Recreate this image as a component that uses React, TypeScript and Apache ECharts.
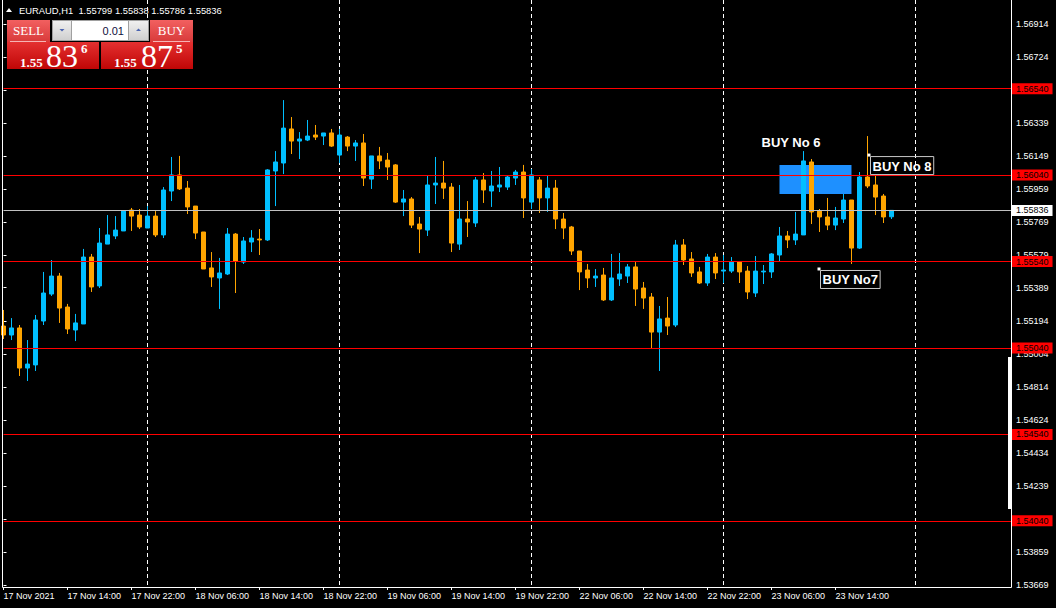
import React, { useEffect, useRef } from 'react';
import * as echarts from 'echarts';

const SYMBOL = 'EURAUD,H1';
const X_LABELS = ['17 Nov 2021', '17 Nov 14:00', '17 Nov 22:00', '18 Nov 06:00', '18 Nov 14:00', '18 Nov 22:00', '19 Nov 06:00', '19 Nov 14:00', '19 Nov 22:00', '22 Nov 06:00', '22 Nov 14:00', '22 Nov 22:00', '23 Nov 06:00', '23 Nov 14:00'];
// price scale ticks; the two marked hidden ones sit under the red level labels in the reference
const Y_TICKS = ['1.53669', '1.53859', '1.54049', '1.54239', '1.54434', '1.54624', '1.54814', '1.55004', '1.55194', '1.55389', '1.55579', '1.55769', '1.55959', '1.56149', '1.56339', '1.56529', '1.56724', '1.56914'];
const Y_TICKS_HIDDEN = ['1.54049', '1.56529'];

const OPEN = [1.55167, 1.55115, 1.55156, 1.54924, 1.54942, 1.55196, 1.55352, 1.55456, 1.55277, 1.55144, 1.55179, 1.55566, 1.55399, 1.55641, 1.55688, 1.55717, 1.55838, 1.55809, 1.55734, 1.55803, 1.55694, 1.55948, 1.56041, 1.55965, 1.55861, 1.55711, 1.55503, 1.55445, 1.55468, 1.55699, 1.55537, 1.55653, 1.55670, 1.55665, 1.56064, 1.56110, 1.56307, 1.56237, 1.56243, 1.56272, 1.56266, 1.56284, 1.56156, 1.56260, 1.56208, 1.56226, 1.56017, 1.56151, 1.56127, 1.56099, 1.55884, 1.55902, 1.55757, 1.55722, 1.55983, 1.55994, 1.55971, 1.55641, 1.55786, 1.55763, 1.56012, 1.55948, 1.55971, 1.55971, 1.56023, 1.56058, 1.55884, 1.56012, 1.55908, 1.55965, 1.55786, 1.55740, 1.55601, 1.55491, 1.55445, 1.55462, 1.55318, 1.55439, 1.55456, 1.55509, 1.55387, 1.55335, 1.55132, 1.55213, 1.55173, 1.55636, 1.55555, 1.55480, 1.55416, 1.55566, 1.55485, 1.55485, 1.55537, 1.55485, 1.55358, 1.55480, 1.55480, 1.55578, 1.55688, 1.55665, 1.55694, 1.56116, 1.55832, 1.55798, 1.55751, 1.55786, 1.55896, 1.55618, 1.56029, 1.55983, 1.55919, 1.55799];
const CLOSE = [1.55115, 1.55156, 1.54924, 1.54947, 1.55202, 1.55358, 1.55456, 1.55271, 1.55150, 1.55185, 1.55566, 1.55393, 1.55647, 1.55694, 1.55722, 1.55832, 1.55803, 1.55740, 1.55803, 1.55694, 1.55954, 1.56041, 1.55960, 1.55856, 1.55705, 1.55497, 1.55451, 1.55474, 1.55699, 1.55543, 1.55659, 1.55676, 1.55665, 1.56070, 1.56116, 1.56312, 1.56237, 1.56249, 1.56266, 1.56260, 1.56284, 1.56208, 1.56272, 1.56208, 1.56226, 1.56023, 1.56151, 1.56122, 1.56087, 1.55884, 1.55902, 1.55751, 1.55728, 1.55983, 1.55994, 1.55965, 1.55647, 1.55786, 1.55769, 1.56012, 1.55954, 1.55977, 1.55983, 1.56029, 1.56058, 1.55908, 1.56041, 1.55908, 1.55965, 1.55786, 1.55734, 1.55601, 1.55480, 1.55445, 1.55456, 1.55318, 1.55445, 1.55468, 1.55509, 1.55381, 1.55329, 1.55132, 1.55208, 1.55167, 1.55636, 1.55549, 1.55474, 1.55416, 1.55566, 1.55474, 1.55491, 1.55537, 1.55480, 1.55364, 1.55485, 1.55485, 1.55584, 1.55688, 1.55665, 1.55699, 1.56122, 1.55827, 1.55798, 1.55751, 1.55792, 1.55896, 1.55618, 1.56029, 1.55977, 1.55913, 1.55798, 1.55836];
const HIGH = [1.55260, 1.55213, 1.55173, 1.55086, 1.55231, 1.55480, 1.55549, 1.55474, 1.55295, 1.55237, 1.55613, 1.55584, 1.55734, 1.55809, 1.55803, 1.55838, 1.55850, 1.55844, 1.55861, 1.55832, 1.55971, 1.56145, 1.56151, 1.56006, 1.55861, 1.55711, 1.55595, 1.55561, 1.55734, 1.55705, 1.55682, 1.55722, 1.55728, 1.56075, 1.56179, 1.56474, 1.56376, 1.56289, 1.56359, 1.56330, 1.56284, 1.56307, 1.56307, 1.56266, 1.56243, 1.56278, 1.56151, 1.56203, 1.56168, 1.56104, 1.55954, 1.55913, 1.55798, 1.56035, 1.56145, 1.56122, 1.55994, 1.55983, 1.55890, 1.56029, 1.56052, 1.56064, 1.56087, 1.56035, 1.56070, 1.56099, 1.56075, 1.56029, 1.56035, 1.56012, 1.55821, 1.55746, 1.55601, 1.55526, 1.55497, 1.55503, 1.55584, 1.55589, 1.55526, 1.55537, 1.55422, 1.55358, 1.55283, 1.55335, 1.55665, 1.55670, 1.55595, 1.55509, 1.55584, 1.55589, 1.55578, 1.55566, 1.55543, 1.55514, 1.55572, 1.55520, 1.55589, 1.55740, 1.55717, 1.55827, 1.56179, 1.56133, 1.55844, 1.55908, 1.55856, 1.55931, 1.55896, 1.56058, 1.56266, 1.56041, 1.55931, 1.55838];
const LOW = [1.55092, 1.55086, 1.54878, 1.54849, 1.54907, 1.55173, 1.55341, 1.55185, 1.55121, 1.55080, 1.55179, 1.55364, 1.55387, 1.55641, 1.55670, 1.55717, 1.55717, 1.55728, 1.55734, 1.55682, 1.55676, 1.55890, 1.55954, 1.55815, 1.55670, 1.55497, 1.55393, 1.55266, 1.55462, 1.55358, 1.55526, 1.55595, 1.55578, 1.55659, 1.55861, 1.56046, 1.56162, 1.56133, 1.56237, 1.56243, 1.56214, 1.56203, 1.56110, 1.56179, 1.56122, 1.55977, 1.55960, 1.56075, 1.56012, 1.55879, 1.55803, 1.55734, 1.55589, 1.55688, 1.55873, 1.55902, 1.55595, 1.55607, 1.55682, 1.55740, 1.55879, 1.55856, 1.55942, 1.55954, 1.55983, 1.55792, 1.55844, 1.55821, 1.55827, 1.55728, 1.55670, 1.55578, 1.55375, 1.55387, 1.55393, 1.55312, 1.55312, 1.55399, 1.55416, 1.55283, 1.55266, 1.55034, 1.54907, 1.55115, 1.55161, 1.55520, 1.55451, 1.55410, 1.55399, 1.55439, 1.55416, 1.55474, 1.55416, 1.55323, 1.55335, 1.55410, 1.55445, 1.55543, 1.55618, 1.55636, 1.55694, 1.55757, 1.55711, 1.55722, 1.55722, 1.55763, 1.55526, 1.55613, 1.55965, 1.55809, 1.55763, 1.55786];

const RED_LEVELS = [1.5654, 1.5604, 1.5554, 1.5504, 1.5454, 1.5404];
const BID = 1.55836;
const ASK = 1.55875;
const LOT = '0.01';
const DAY_SEPARATORS = [18, 42, 66, 90, 114];
const ZONE_BARS = [97, 106];
const ZONE_PRICES = [1.56099, 1.55931];
const NOTE_TEXT = ['BUY No 6', 'BUY No 8', 'BUY No7'];
const NOTE_BAR = [94.69, 108.19, 101.94];
const NOTE_PRICE = [1.56229, 1.56156, 1.55497];
const NOTE_BOXED = [false, true, true];

const Y_MIN = 1.53669;
const Y_MAX = 1.57053;
const X_MAX = 125.94;

const SANS = '"Liberation Sans", Arial, sans-serif';
const SERIF = '"Liberation Serif", "Times New Roman", serif';

function grad(c1: string, c2: string) {
  return new echarts.graphic.LinearGradient(0, 0, 0, 1, [
    { offset: 0, color: c1 },
    { offset: 1, color: c2 },
  ]);
}

function txt(text: string, x: number, y: number, font: string, fill: string, align = 'left') {
  return {
    type: 'text',
    z: 110,
    silent: true,
    style: { text, x, y, font, fill, align, textAlign: align, verticalAlign: 'middle', textVerticalAlign: 'middle' },
  };
}

function priceParts(p: number) {
  const s = p.toFixed(5);
  return [s.slice(0, 4), s.slice(4, 6), s.slice(6)];
}

export default function App() {
  const ref = useRef<HTMLDivElement>(null);

  useEffect(() => {
    if (!ref.current) return;
    const chart = echarts.init(ref.current, undefined, { renderer: 'svg' });
    const n = OPEN.length - 1;
    const candles = OPEN.map((o, i) => [i, o, CLOSE[i], LOW[i], HIGH[i]]);
    const title = `${SYMBOL}  ${OPEN[n].toFixed(5)} ${HIGH[n].toFixed(5)} ${LOW[n].toFixed(5)} ${CLOSE[n].toFixed(5)}`;
    const bidP = priceParts(BID);
    const askP = priceParts(ASK);

    const levelLabel = (bg: string) => ({
      show: true,
      position: 'end',
      distance: 1,
      backgroundColor: bg,
      color: '#000',
      fontSize: 9,
      fontFamily: SANS,
      lineHeight: 10,
      padding: [1, 4, 0, 4],
    });

    const option: any = {
      animation: false,
      backgroundColor: '#000',
      grid: { left: 3.5, right: 45, top: 0, bottom: 23, containLabel: false, outerBoundsMode: 'none' },
      xAxis: {
        type: 'value',
        min: 0,
        max: X_MAX,
        offset: 2,
        axisLine: { show: false },
        splitLine: { show: false },
        axisTick: {
          show: true,
          length: 3,
          customValues: X_LABELS.map((_, k) => k * 8),
          lineStyle: { color: '#fff', width: 1 },
        },
        axisLabel: {
          show: true,
          customValues: X_LABELS.map((_, k) => k * 8),
          formatter: (v: number) => X_LABELS[Math.round(v / 8)] ?? '',
          color: '#fff',
          fontSize: 9,
          fontFamily: SANS,
          align: 'left',
          margin: 4,
        },
      },
      yAxis: {
        type: 'value',
        position: 'right',
        min: Y_MIN,
        max: Y_MAX,
        scale: true,
        axisLine: { show: false },
        splitLine: { show: false },
        axisTick: {
          show: true,
          length: 3,
          customValues: Y_TICKS.map(Number),
          lineStyle: { color: '#fff', width: 1 },
        },
        axisLabel: {
          show: true,
          customValues: Y_TICKS.filter((t) => !Y_TICKS_HIDDEN.includes(t)).map(Number),
          formatter: (v: number) => v.toFixed(5),
          color: '#fff',
          fontSize: 9,
          fontFamily: SANS,
          margin: 5,
        },
      },
      series: [
        {
          type: 'scatter',
          z: 1,
          silent: true,
          symbolSize: 0,
          data: [[0, 1.55]],
          markArea: {
            silent: true,
            z: 1,
            itemStyle: { color: '#1e90ff', opacity: 1 },
            data: [[{ coord: [ZONE_BARS[0], ZONE_PRICES[0]] }, { coord: [ZONE_BARS[1], ZONE_PRICES[1]] }]],
          },
          markLine: {
            silent: true,
            z: 1,
            precision: 5,
            symbol: ['none', 'none'],
            label: { show: false },
            lineStyle: { color: '#ffffff', width: 1, type: [4, 3] },
            data: DAY_SEPARATORS.map((b) => ({ xAxis: b })),
          },
        },
        {
          type: 'candlestick',
          z: 3,
          silent: true,
          barWidth: 4,
          clip: true,
          itemStyle: {
            color: '#00bfff',
            color0: '#ffa500',
            borderColor: '#00bfff',
            borderColor0: '#ffa500',
            borderWidth: 1,
          },
          data: candles,
          markLine: {
            silent: true,
            z: 5,
            precision: 5,
            symbol: ['none', 'none'],
            data: [
              ...RED_LEVELS.map((v) => ({
                yAxis: v,
                lineStyle: { color: '#ff0000', width: 1, type: 'solid' },
                label: { ...levelLabel('#ff0000'), formatter: v.toFixed(5) },
              })),
              {
                yAxis: BID,
                lineStyle: { color: '#c0c0c0', width: 1, type: 'solid' },
                label: { ...levelLabel('#ffffff'), formatter: BID.toFixed(5) },
              },
            ],
          },
          markPoint: {
            silent: true,
            z: 6,
            data: NOTE_TEXT.map((t, i) =>
              NOTE_BOXED[i]
                ? {
                    coord: [NOTE_BAR[i], NOTE_PRICE[i]],
                    symbol: 'rect',
                    symbolSize: 3,
                    itemStyle: { color: '#ffffff' },
                    label: {
                      show: true,
                      formatter: t,
                      position: [3, 3],
                      align: 'left',
                      verticalAlign: 'top',
                      color: '#ffffff',
                      fontSize: 13,
                      fontWeight: 'bold',
                      fontFamily: SANS,
                      lineHeight: 13,
                      borderColor: '#c8c8c8',
                      borderWidth: 1,
                      padding: [3, 2, 2, 2],
                    },
                  }
                : {
                    coord: [NOTE_BAR[i], NOTE_PRICE[i]],
                    symbol: 'rect',
                    symbolSize: 1,
                    itemStyle: { color: 'rgba(0,0,0,0)' },
                    label: {
                      show: true,
                      formatter: t,
                      position: 'right',
                      distance: 0,
                      color: '#ffffff',
                      fontSize: 13,
                      fontWeight: 'bold',
                      fontFamily: SANS,
                    },
                  }
            ),
          },
        },
      ],
      graphic: [
        {
          type: 'polyline',
          z: 100,
          silent: true,
          shape: { points: [[2.5, 0], [2.5, 587.5], [1011.5, 587.5], [1011.5, 0]] },
          style: { stroke: '#ffffff', lineWidth: 1, fill: 'none' },
        },
        { type: 'rect', z: 100, silent: true, shape: { x: 1008, y: 357, width: 3, height: 152 }, style: { fill: '#ffffff' } },
        // title
        { type: 'polygon', z: 110, silent: true, shape: { points: [[6, 12], [9, 8], [12, 12]] }, style: { fill: '#ffffff' } },
        txt(title, 19, 10.5, `9.4px ${SANS}`, '#ffffff'),
        // SELL button
        { type: 'rect', z: 105, silent: true, shape: { x: 7, y: 20, width: 43, height: 22 }, style: { fill: grad('#f26060', '#d83a3a') } },
        { type: 'line', z: 106, silent: true, shape: { x1: 10, y1: 41.5, x2: 46, y2: 41.5 }, style: { stroke: '#f6b4b4', lineWidth: 1 } },
        txt('SELL', 28.5, 30.5, `13px ${SERIF}`, '#ffffff', 'center'),
        // lot box
        { type: 'rect', z: 105, silent: true, shape: { x: 52, y: 20, width: 97, height: 21 }, style: { fill: '#a0a0a0' } },
        { type: 'rect', z: 106, silent: true, shape: { x: 53, y: 21, width: 18, height: 19 }, style: { fill: grad('#f0f0f0', '#cfcfcf') } },
        { type: 'polygon', z: 107, silent: true, shape: { points: [[59.5, 29], [64.5, 29], [62, 31.5]] }, style: { fill: '#4a64b0' } },
        { type: 'rect', z: 106, silent: true, shape: { x: 72, y: 21, width: 56, height: 19 }, style: { fill: '#ffffff' } },
        txt(LOT, 124, 30.5, `11px ${SANS}`, '#101040', 'right'),
        { type: 'rect', z: 106, silent: true, shape: { x: 129, y: 21, width: 19, height: 19 }, style: { fill: grad('#f0f0f0', '#cfcfcf') } },
        { type: 'polygon', z: 107, silent: true, shape: { points: [[136, 31], [141, 31], [138.5, 28.5]] }, style: { fill: '#4a64b0' } },
        // BUY button
        { type: 'rect', z: 105, silent: true, shape: { x: 150, y: 20, width: 43, height: 22 }, style: { fill: grad('#f26060', '#d83a3a') } },
        { type: 'line', z: 106, silent: true, shape: { x1: 153, y1: 41.5, x2: 190, y2: 41.5 }, style: { stroke: '#f6b4b4', lineWidth: 1 } },
        txt('BUY', 171.5, 30.5, `13px ${SERIF}`, '#ffffff', 'center'),
        // price panels
        { type: 'rect', z: 105, silent: true, shape: { x: 7, y: 42, width: 92, height: 27 }, style: { fill: grad('#e43030', '#c00606') } },
        { type: 'rect', z: 105, silent: true, shape: { x: 101, y: 42, width: 92, height: 27 }, style: { fill: grad('#e43030', '#c00606') } },
        txt(bidP[0], 20, 62, `bold 13px ${SERIF}`, '#ffffff'),
        txt(bidP[1], 46, 56, `32px ${SERIF}`, '#ffffff'),
        txt(bidP[2], 81, 48.5, `bold 13px ${SERIF}`, '#ffffff'),
        txt(askP[0], 114, 62, `bold 13px ${SERIF}`, '#ffffff'),
        txt(askP[1], 141, 56, `32px ${SERIF}`, '#ffffff'),
        txt(askP[2], 176, 48.5, `bold 13px ${SERIF}`, '#ffffff'),
      ],
    };
    chart.setOption(option);
    return () => chart.dispose();
  }, []);

  return (
    <div
      ref={ref}
      style={{ position: 'fixed', left: 0, top: 0, width: 1056, height: 608, background: '#000' }}
    />
  );
}
